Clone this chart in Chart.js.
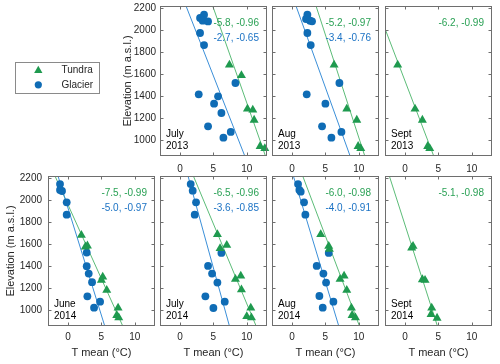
<!DOCTYPE html>
<html>
<head>
<meta charset="utf-8">
<script src="https://cdn.jsdelivr.net/npm/chart.js@4.4.1/dist/chart.umd.min.js"></script>
<style>
  body { margin: 0; background: #fff; width: 500px; height: 364px; position: relative; overflow: hidden; }
  canvas { position: absolute; }
</style>
</head>
<body>
<script>
// points are [T mean (°C), elevation (m a.s.l.)]
const tundraJul13 = [[7.4,1683],[9.2,1589],[10.1,1284],[10.9,1275],[11.1,1184],[12.0,946],[12.7,927]];
const glacierJul13 = [[3.0,2109],[3.6,2139],[3.4,2085],[4.2,2078],[3.0,1973],[3.6,1864],[8.3,1520],[2.8,1417],[5.7,1399],[5.1,1332],[6.2,1248],[4.2,1127],[7.6,1076],[6.5,1024]];
const tundraFitJul13 = [[4.9,2218],[12.8,858]];
const glacierFitJul13 = [[0.9,2218],[9.7,858]];

const tundraAug13 = [[6.3,1683],[8.2,1284],[9.7,1184],[9.9,946],[10.3,927]];
const glacierAug13 = [[2.3,2139],[2.1,2100],[2.7,2085],[3.0,2079],[2.3,1973],[2.8,1864],[7.1,1520],[2.2,1417],[5.0,1332],[4.5,1127],[7.4,1076],[5.9,1024]];
const tundraFitAug13 = [[3.6,2218],[10.9,858]];
const glacierFitAug13 = [[0.6,2218],[8.7,858]];

const tundraSep13 = [[-1.1,1683],[1.5,1284],[2.6,1184],[3.4,946],[3.7,927]];
const tundraFitSep13 = [[-4.3,2218],[4.3,858]];

const tundraJun14 = [[2.0,1682],[2.6,1576],[2.9,1585],[5.2,1303],[5.0,1273],[5.8,1182],[7.5,1021],[7.3,955],[7.6,933]];
const glacierJun14 = [[-1.2,2145],[-1.2,2091],[-0.9,2082],[-0.2,1979],[-0.2,1867],[2.8,1524],[2.8,1400],[3.1,1333],[3.6,1255],[2.9,1127],[4.8,1079],[3.9,1024]];
const tundraFitJun14 = [[-1.95,2218],[8.2,858]];
const glacierFitJun14 = [[-1.5,2218],[5.5,858]];

const tundraJul14 = [[5.6,1688],[6.0,1561],[7.0,1591],[8.3,1282],[9.1,1312],[9.2,1188],[10.6,1021],[10.0,945],[10.7,933]];
const glacierJul14 = [[1.6,2145],[1.9,2085],[2.4,1979],[2.2,1867],[6.2,1521],[4.2,1403],[4.8,1333],[5.6,1252],[3.8,1127],[6.7,1079],[5.0,1021]];
const tundraFitJul14 = [[2.0,2218],[11.4,858]];
const glacierFitJul14 = [[1.2,2218],[7.4,858]];

const tundraAug14 = [[4.3,1688],[5.5,1582],[5.6,1555],[7.2,1282],[7.8,1312],[8.2,1182],[8.9,1021],[9.0,955],[9.5,933]];
const glacierAug14 = [[0.9,2145],[1.1,2091],[1.3,2076],[1.8,1979],[2.0,1867],[5.5,1521],[3.7,1403],[4.7,1333],[5.1,1252],[4.1,1130],[6.2,1079],[4.6,1024]];
const tundraFitAug14 = [[1.6,2218],[10.1,858]];
const glacierFitAug14 = [[0.2,2218],[7.0,858]];

const tundraSep14 = [[1.2,1582],[1.0,1567],[2.6,1279],[3.0,1273],[4.0,1021],[3.9,964],[4.8,930]];
const tundraFitSep14 = [[-2.35,2218],[4.85,858]];

const tundraStats = ['-5.8, -0.96','-5.2, -0.97','-6.2, -0.99','-7.5, -0.99','-6.5, -0.96','-6.0, -0.98','-5.1, -0.98'];
const glacierStats = ['-2.7, -0.65','-3.4, -0.76', null,'-5.0, -0.97','-3.6, -0.85','-4.0, -0.91', null];
const monthLabels = ['July','Aug','Sept','June','July','Aug','Sept'];
const yearLabels = ['2013','2013','2013','2014','2014','2014','2014'];

const xTickValues = [0, 5, 10];
const yTickValues = [1000, 1200, 1400, 1600, 1800, 2000, 2200];

const green = '#1f9a4f', blue = '#0f6cb5';
const greenLine = '#5cbc78', blueLine = '#3b8fd8';
const greenText = '#2aa155', blueText = '#1b72c4';
const FONT = "'Liberation Sans', Arial, sans-serif";

Chart.defaults.font.family = FONT;
Chart.defaults.font.size = 10;
Chart.defaults.color = '#262626';

const tundraAll = [tundraJul13, tundraAug13, tundraSep13, tundraJun14, tundraJul14, tundraAug14, tundraSep14];
const glacierAll = [glacierJul13, glacierAug13, null, glacierJun14, glacierJul14, glacierAug14, null];
const tundraFits = [tundraFitJul13, tundraFitAug13, tundraFitSep13, tundraFitJun14, tundraFitJul14, tundraFitAug14, tundraFitSep14];
const glacierFits = [glacierFitJul13, glacierFitAug13, null, glacierFitJun14, glacierFitJul14, glacierFitAug14, null];

// layout of the 7 panels
const PW = 110, PH = 150;
const panelLeft = [160, 272, 385, 48, 160, 272, 385];
const panelTop = [6, 6, 6, 176, 176, 176, 176];

function pts(arr) {
    return arr.map(p => ({x: p[0], y: p[1]}));
}

const framePlugin = {
    id: 'frame',
    afterDraw(chart, args, o) {
        const ctx = chart.ctx, a = chart.chartArea;
        const x = chart.scales.x, y = chart.scales.y;
        const L = Math.round(a.left) + 0.5, R = Math.round(a.right) - 0.5;
        const T = Math.round(a.top) + 0.5, B = Math.round(a.bottom) - 0.5;
        ctx.save();
        ctx.strokeStyle = '#6e6e6e';
        ctx.lineWidth = 1;
        ctx.strokeRect(L, T, R - L, B - T);
        ctx.beginPath();
        xTickValues.forEach(v => {
            const px = Math.round(x.getPixelForValue(v)) + 0.5;
            ctx.moveTo(px, B); ctx.lineTo(px, B - 3);
            ctx.moveTo(px, T); ctx.lineTo(px, T + 3);
        });
        yTickValues.forEach(v => {
            const py = Math.round(y.getPixelForValue(v)) + 0.5;
            ctx.moveTo(L, py); ctx.lineTo(L + 3, py);
            ctx.moveTo(R, py); ctx.lineTo(R - 3, py);
        });
        ctx.stroke();

        ctx.font = '10px ' + FONT;
        ctx.textAlign = 'left';
        ctx.textBaseline = 'middle';
        const tx = x.getPixelForValue(5);
        if (o.tStats) {
            ctx.fillStyle = greenText;
            ctx.fillText(o.tStats, tx, y.getPixelForValue(2060));
        }
        if (o.gStats) {
            ctx.fillStyle = blueText;
            ctx.fillText(o.gStats, tx, y.getPixelForValue(1925));
        }
        ctx.fillStyle = '#000';
        ctx.fillText(o.month, a.left + 6, a.bottom - 22);
        ctx.fillText(o.year, a.left + 6, a.bottom - 9.5);
        ctx.restore();
    }
};

function makePanel(i) {
    const isBottom = i >= 3;
    const showY = (i === 0 || i === 3);
    const aw = i === 0 ? 43 : (i === 3 ? 48 : 12);
    const xh = isBottom ? 38 : 20;
    const padT = 6, padR = 2;
    const cw = aw + PW + padR, ch = padT + PH + xh;

    const canvas = document.createElement('canvas');
    canvas.width = cw; canvas.height = ch;
    canvas.style.left = (panelLeft[i] - aw) + 'px';
    canvas.style.top = (panelTop[i] - padT) + 'px';
    canvas.style.width = cw + 'px'; canvas.style.height = ch + 'px';
    document.body.appendChild(canvas);

    const datasets = [];
    datasets.push({
        label: 'Tundra', data: pts(tundraAll[i]),
        pointStyle: 'triangle', pointRadius: 5.2, borderWidth: 0,
        backgroundColor: green, borderColor: green, clip: 8
    });
    if (glacierAll[i]) {
        datasets.push({
            label: 'Glacier', data: pts(glacierAll[i]),
            pointStyle: 'circle', pointRadius: 3.9, borderWidth: 0,
            backgroundColor: blue, borderColor: blue, clip: 8
        });
        datasets.push({
            label: 'Glacier fit', data: pts(glacierFits[i]), showLine: true,
            pointRadius: 0, borderColor: blueLine, borderWidth: 1
        });
    }
    datasets.push({
        label: 'Tundra fit', data: pts(tundraFits[i]), showLine: true,
        pointRadius: 0, borderColor: greenLine, borderWidth: 1
    });

    new Chart(canvas, {
        type: 'scatter',
        data: {datasets: datasets},
        options: {
            responsive: false,
            animation: false,
            events: [],
            layout: {padding: {top: padT, right: padR, left: 0, bottom: 0}},
            plugins: {
                legend: {display: false},
                tooltip: {enabled: false},
                frame: {tStats: tundraStats[i], gStats: glacierStats[i], month: monthLabels[i], year: yearLabels[i]}
            },
            scales: {
                x: {
                    type: 'linear', min: -3, max: 13,
                    grid: {display: false, drawTicks: false},
                    border: {display: false},
                    ticks: {padding: isBottom ? 5 : 7, font: {size: 10}, callback: v => String(v)},
                    afterBuildTicks: s => { s.ticks = xTickValues.map(v => ({value: v})); },
                    afterFit: s => { s.height = xh; s.paddingLeft = 0; s.paddingRight = 0; },
                    title: {display: isBottom, text: 'T mean (°C)', font: {size: 11}, padding: {top: 4, bottom: 4}}
                },
                y: {
                    type: 'linear', min: 858, max: 2218,
                    grid: {display: false, drawTicks: false},
                    border: {display: false},
                    ticks: {display: showY, padding: isBottom ? 6 : 4, font: {size: 10}, callback: v => String(v)},
                    afterBuildTicks: s => { s.ticks = yTickValues.map(v => ({value: v})); },
                    afterFit: s => { s.width = aw; s.paddingTop = 0; s.paddingBottom = 0; },
                    title: {display: showY, text: 'Elevation (m a.s.l.)', font: {size: 11}, padding: {top: 4, bottom: 4}}
                }
            }
        },
        plugins: [framePlugin]
    });
}

for (let i = 0; i < 7; i++) makePanel(i);

// legend box
const boxLegend = {
    id: 'boxLegend',
    afterDraw(chart) {
        const ctx = chart.ctx;
        ctx.save();
        ctx.strokeStyle = '#8a8a8a';
        ctx.lineWidth = 1;
        ctx.strokeRect(1.5, 1.5, 84, 31);
        ctx.font = '10px ' + FONT;
        ctx.textAlign = 'left';
        ctx.textBaseline = 'middle';
        chart.data.datasets.forEach((ds, k) => {
            const yy = 9.5 + k * 14.3;
            ctx.fillStyle = ds.backgroundColor;
            Chart.helpers.drawPoint(ctx, {pointStyle: ds.pointStyle, radius: ds.pointRadius, rotation: 0, borderWidth: 0}, 24.3, yy);
            ctx.fillStyle = '#262626';
            ctx.fillText(ds.label, 47.5, yy);
        });
        ctx.restore();
    }
};

const legCanvas = document.createElement('canvas');
legCanvas.width = 88; legCanvas.height = 34;
legCanvas.style.left = '14px'; legCanvas.style.top = '61px';
document.body.appendChild(legCanvas);
new Chart(legCanvas, {
    type: 'scatter',
    data: {datasets: [
        {label: 'Tundra', data: [], pointStyle: 'triangle', pointRadius: 4.8, backgroundColor: green},
        {label: 'Glacier', data: [], pointStyle: 'circle', pointRadius: 3.6, backgroundColor: blue}
    ]},
    options: {
        responsive: false, animation: false, events: [],
        plugins: {legend: {display: false}, tooltip: {enabled: false}},
        scales: {x: {display: false}, y: {display: false}}
    },
    plugins: [boxLegend]
});
</script>
</body>
</html>
